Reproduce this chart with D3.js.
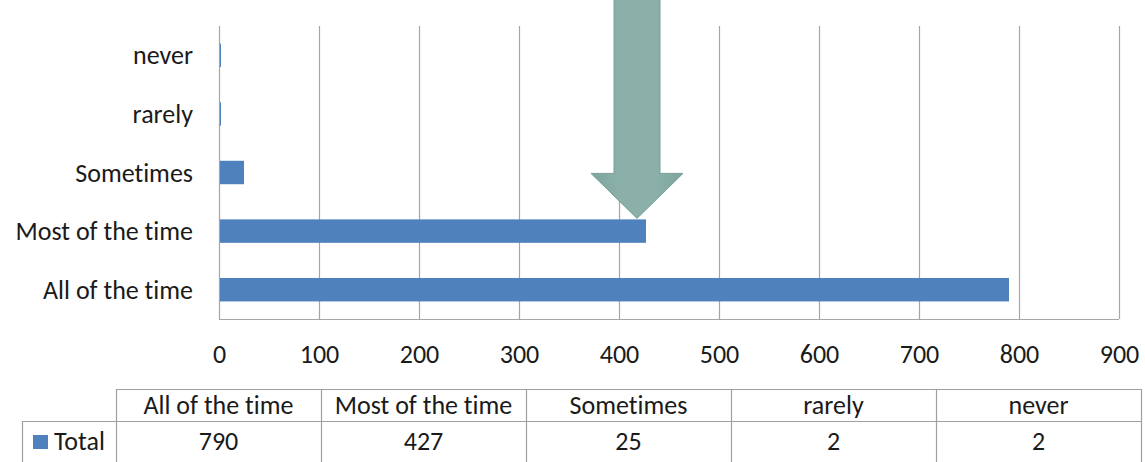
<!DOCTYPE html>
<html>
<head>
<meta charset="utf-8">
<script src="https://cdn.jsdelivr.net/npm/d3@7"></script>
<style>
  html, body { margin: 0; padding: 0; background: #fff; }
  svg { display: block; }
  text { font-family: Carlito, Calibri, "Liberation Sans", Arial, sans-serif; fill: #1a1a1a; font-variant-ligatures: none; }
</style>
</head>
<body>
<svg id="chart" width="1145" height="462"></svg>
<script>
// Survey responses: how often (count of respondents)
const categories = ["All of the time", "Most of the time", "Sometimes", "rarely", "never"];
const totals = [790, 427, 25, 2, 2];
const xTicks = [0, 100, 200, 300, 400, 500, 600, 700, 800, 900];
const seriesName = "Total";
const highlightValue = 427; // the arrow points at this bar's end

const svg = d3.select("#chart");
const FONT = 'Carlito, Calibri, "Liberation Sans", Arial, sans-serif';
const FS = 26;

const plot = { left: 219, right: 1119, top: 26, bottom: 319 };

const x = d3.scaleLinear().domain([0, 900]).range([plot.left, plot.right]);
// Bars listed bottom-up: first category sits at the bottom
const y = d3.scaleBand()
  .domain(categories.slice().reverse())
  .range([plot.top, plot.bottom])
  .paddingInner(0.6)
  .paddingOuter(0.3);

const gridColor = "#a6a6a6";
const barColor = "#4f81bd";

// Vertical gridlines
svg.append("g")
  .selectAll("line")
  .data(xTicks)
  .join("line")
  .attr("x1", d => Math.round(x(d)) + 0.5)
  .attr("x2", d => Math.round(x(d)) + 0.5)
  .attr("y1", plot.top)
  .attr("y2", plot.bottom)
  .attr("stroke", gridColor)
  .attr("stroke-width", 1.2);

// Bottom axis line
svg.append("line")
  .attr("x1", plot.left).attr("x2", plot.right)
  .attr("y1", plot.bottom + 0.5).attr("y2", plot.bottom + 0.5)
  .attr("stroke", gridColor).attr("stroke-width", 1.2);

// Bars
svg.append("g")
  .selectAll("rect")
  .data(categories.map((c, i) => ({ c, v: totals[i] })))
  .join("rect")
  .attr("x", x(0) + 1)
  .attr("y", d => y(d.c))
  .attr("width", d => Math.max(0, x(d.v) - x(0) - 1))
  .attr("height", y.bandwidth())
  .attr("fill", barColor);

// X tick labels
const xAxis = d3.axisBottom(x).tickValues(xTicks).tickSize(0).tickPadding(0);
const gx = svg.append("g").attr("transform", `translate(0, 363)`).call(xAxis);
gx.select(".domain").remove();
gx.selectAll("text")
  .attr("dy", 0)
  .attr("font-size", FS)
  .style("font-family", FONT)
  .attr("fill", "#1a1a1a");

// Category labels
const yAxis = d3.axisLeft(y).tickSize(0).tickPadding(0);
const gy = svg.append("g").attr("transform", `translate(193, 0)`).call(yAxis);
gy.select(".domain").remove();
gy.selectAll("text")
  .attr("dy", "0.35em")
  .attr("font-size", FS)
  .style("font-family", FONT)
  .attr("fill", "#1a1a1a");

// Down arrow pointing at the highlighted bar
const tipX = x(highlightValue) - 9;
const tipY = y(categories[1]) - 1;
const shaftHalf = 23, headHalf = 46, headH = 45;
const arrowPts = [
  [tipX - shaftHalf, -5],
  [tipX + shaftHalf, -5],
  [tipX + shaftHalf, tipY - headH],
  [tipX + headHalf, tipY - headH],
  [tipX, tipY],
  [tipX - headHalf, tipY - headH],
  [tipX - shaftHalf, tipY - headH]
];
const defs = svg.append("defs");
const grad = defs.append("linearGradient").attr("id", "arrowGrad")
  .attr("x1", "0").attr("x2", "1").attr("y1", "0").attr("y2", "0");
grad.append("stop").attr("offset", "0%").attr("stop-color", "#7ba59d");
grad.append("stop").attr("offset", "30%").attr("stop-color", "#8bb0a9");
grad.append("stop").attr("offset", "70%").attr("stop-color", "#8bb0a9");
grad.append("stop").attr("offset", "100%").attr("stop-color", "#7ba59d");
svg.append("path")
  .attr("d", d3.line()(arrowPts) + "Z")
  .attr("fill", "url(#arrowGrad)")
  .attr("stroke", "#78a098")
  .attr("stroke-width", 1);

// Data table
const tbl = { left: 116, right: 1141, top: 389, mid: 421, bottom: 470, rowLeft: 22 };
const colW = (tbl.right - tbl.left) / categories.length;
const tableColor = "#a0a0a0";
const tg = svg.append("g").attr("stroke", tableColor).attr("stroke-width", 1.2).attr("fill", "none");
tg.append("line").attr("x1", tbl.left).attr("x2", tbl.right).attr("y1", tbl.top + 0.5).attr("y2", tbl.top + 0.5);
tg.append("line").attr("x1", tbl.rowLeft).attr("x2", tbl.right).attr("y1", tbl.mid + 0.5).attr("y2", tbl.mid + 0.5);
tg.append("line").attr("x1", tbl.rowLeft + 0.5).attr("x2", tbl.rowLeft + 0.5).attr("y1", tbl.mid).attr("y2", tbl.bottom);
tg.selectAll("line.col")
  .data(d3.range(categories.length + 1))
  .join("line")
  .attr("class", "col")
  .attr("x1", i => Math.round(tbl.left + i * colW) + 0.5)
  .attr("x2", i => Math.round(tbl.left + i * colW) + 0.5)
  .attr("y1", tbl.top)
  .attr("y2", tbl.bottom);

svg.append("g").selectAll("text")
  .data(categories)
  .join("text")
  .attr("x", (d, i) => tbl.left + (i + 0.5) * colW)
  .attr("y", (tbl.top + tbl.mid) / 2)
  .attr("dy", "0.35em")
  .attr("text-anchor", "middle")
  .attr("font-size", FS)
  .text(d => d);

svg.append("g").selectAll("text")
  .data(totals)
  .join("text")
  .attr("x", (d, i) => tbl.left + (i + 0.5) * colW)
  .attr("y", 441)
  .attr("dy", "0.35em")
  .attr("text-anchor", "middle")
  .attr("font-size", FS)
  .text(d => d);

// Legend key in the row header
svg.append("rect")
  .attr("x", 33).attr("y", 435).attr("width", 15).attr("height", 14)
  .attr("fill", barColor);
svg.append("text")
  .attr("x", 54).attr("y", 441)
  .attr("dy", "0.35em")
  .attr("font-size", FS)
  .text(seriesName);
</script>
</body>
</html>
